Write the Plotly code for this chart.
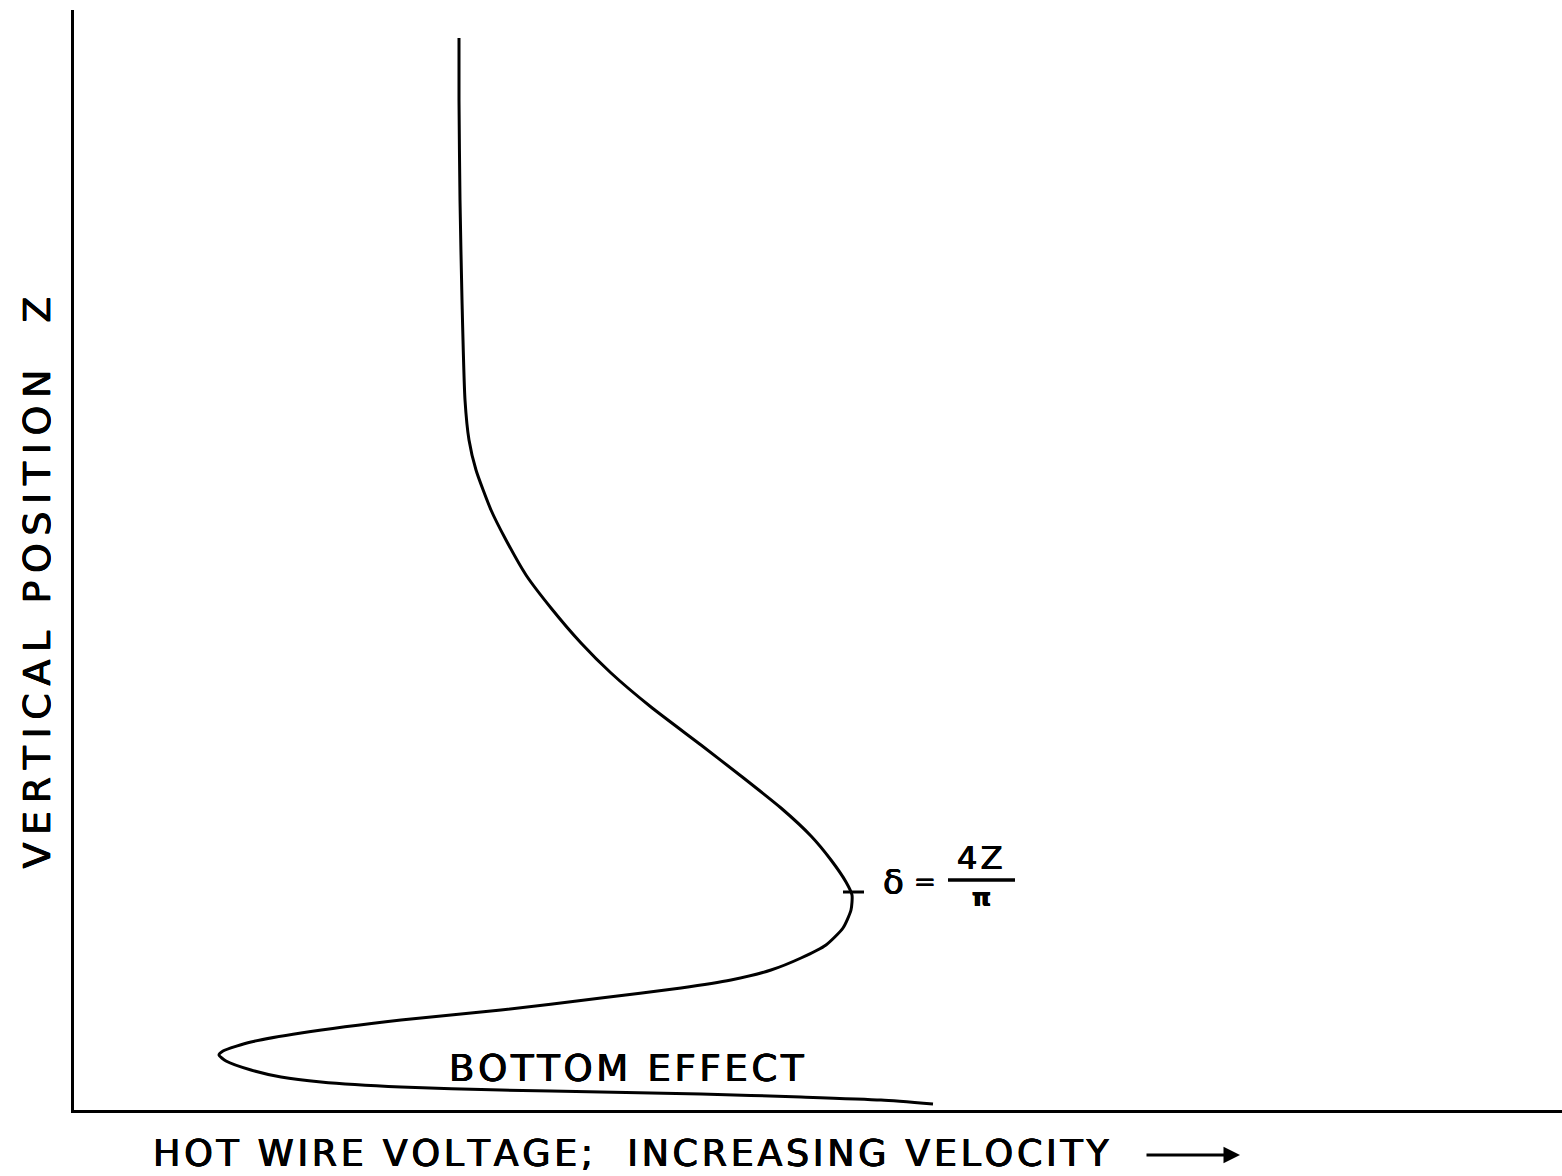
import plotly.graph_objects as go

# Curve trace (velocity proxy vs vertical position)
voltage = [385, 385, 386, 388, 391, 395, 402, 417, 432, 452, 477, 507, 537, 577, 627, 667, 707, 737,
           757, 772, 778, 777, 769, 752, 727, 697, 657, 607, 527, 427, 327, 227, 177, 149, 145, 152,
           177, 207, 247, 327, 427, 527, 627, 727, 807, 859]
height = [1072, 1010, 910, 810, 710, 670, 640, 600, 570, 535, 502, 467, 437, 403, 365, 334, 302, 274,
          250, 228, 215, 200, 182, 165, 152, 140, 130, 122, 112, 100, 90, 77, 68, 59, 55, 49,
          40, 33, 28, 23, 20, 18, 16, 13, 10, 6]

x_title = "HOT WIRE VOLTAGE;  INCREASING VELOCITY"
y_title = "VERTICAL POSITION  Z"
bottom_label = "BOTTOM EFFECT"
delta_x, delta_y = 780, 218

FAMILY = "DejaVu Sans, Liberation Sans, sans-serif"
SHADOW = "0.6px 0 0 black, -0.4px 0 0 black, 0 0.4px 0 black"


def spaced(s, sep):
    return sep.join(list(s))


HAIR = "\u200a"
THIN = "\u2009"


def font(size, **kw):
    return dict(size=size, family=FAMILY, color="black", shadow=SHADOW, **kw)


fig = go.Figure()
fig.add_trace(go.Scatter(x=voltage, y=height, mode="lines",
                         line=dict(color="black", width=3, shape="spline", smoothing=0.6),
                         hoverinfo="skip", showlegend=False))

fig.update_layout(
    width=1562, height=1176,
    margin=dict(l=74, r=0, t=10, b=66),
    paper_bgcolor="white", plot_bgcolor="white",
    xaxis=dict(range=[0, 1488], showline=True, linecolor="black", linewidth=3,
               showgrid=False, zeroline=False, showticklabels=False, ticks="", fixedrange=True),
    yaxis=dict(range=[0, 1100], showline=True, linecolor="black", linewidth=3,
               showgrid=False, zeroline=False, showticklabels=False, ticks="", fixedrange=True),
    showlegend=False,
)

# tick mark on the curve at delta
fig.add_shape(type="line", x0=delta_x - 11, x1=delta_x + 10, y0=delta_y, y1=delta_y,
              line=dict(color="black", width=3))
# fraction bar
fig.add_shape(type="line", x0=874, x1=941, y0=230, y1=230, line=dict(color="black", width=3.5))

fig.add_annotation(x=819, y=228, text="δ", showarrow=False, xanchor="center", yanchor="middle",
                   font=font(34))
fig.add_annotation(x=851, y=228, text="=", showarrow=False, xanchor="center", yanchor="middle",
                   font=font(26))
fig.add_annotation(x=905, y=252, text=spaced("4Z", HAIR), showarrow=False, xanchor="center",
                   yanchor="middle", font=font(32))
fig.add_annotation(x=907, y=212, text="π", showarrow=False, xanchor="center", yanchor="middle",
                   font=font(24, weight="bold"))
fig.add_annotation(x=552, y=42, text=spaced(bottom_label, HAIR), showarrow=False,
                   xanchor="center", yanchor="middle", font=font(37))

fig.add_annotation(x=0.3743, y=-0.0395, xref="paper", yref="paper", text=spaced(x_title, HAIR),
                   showarrow=False, xanchor="center", yanchor="middle", font=font(36.5))
# arrow after the x title
fig.add_annotation(x=0.7836, y=-0.0409, xref="paper", yref="paper", ax=-95, ay=0,
                   text="", showarrow=True, arrowhead=2, arrowsize=1.1, arrowwidth=3,
                   arrowcolor="black")
fig.add_annotation(x=-0.0255, y=0.4795, xref="paper", yref="paper", text=spaced(y_title, THIN),
                   textangle=-90, showarrow=False, xanchor="center", yanchor="middle",
                   font=font(38))

fig.write_html("out.html")
